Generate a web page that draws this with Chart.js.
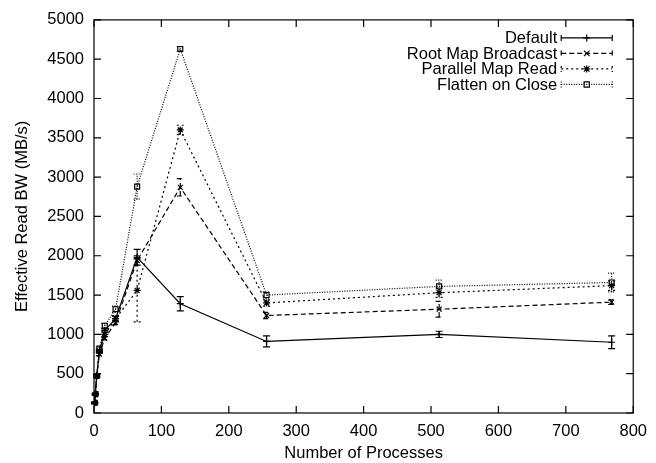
<!DOCTYPE html>
<html><head><meta charset="utf-8">
<script src="https://cdn.jsdelivr.net/npm/chart.js@4.4.1/dist/chart.umd.min.js"></script>
<style>html,body{margin:0;padding:0;background:#fff}#wrap{width:656px;height:463px}</style>
</head><body><div id="wrap"><canvas id="c" width="656" height="463"></canvas></div>
<script>
const processes = [1, 2, 4, 8, 16, 32, 64, 128, 256, 512, 768];
const seriesNames = ["Default", "Root Map Broadcast", "Parallel Map Read", "Flatten on Close"];
const defaultBW = [130, 240, 470, 780, 1050, 1200, 1980, 1390, 910, 1000, 900];
const defaultErr = [10, 10, 15, 20, 20, 30, 100, 90, 70, 40, 80];
const rootBW = [130, 240, 470, 750, 950, 1150, 1940, 2870, 1240, 1320, 1410];
const rootErr = [10, 10, 15, 20, 20, 30, 60, 110, 40, 100, 30];
const parallelBW = [130, 240, 470, 790, 1000, 1200, 1560, 3600, 1400, 1530, 1620];
const parallelErr = [10, 10, 15, 20, 30, 40, 400, 60, 40, 60, 60];
const flattenBW = [130, 240, 470, 820, 1110, 1320, 2880, 4630, 1500, 1610, 1660];
const flattenErr = [10, 10, 15, 20, 30, 40, 160, 30, 40, 80, 120];
const xTicks = [0, 100, 200, 300, 400, 500, 600, 700, 800];
const yTicks = [0, 500, 1000, 1500, 2000, 2500, 3000, 3500, 4000, 4500, 5000];

const FONT = "'Liberation Sans', Arial, sans-serif";
const FS = 16.5;
const styles = [
  {dash: [], pt: 'cross'},
  {dash: [5, 3], pt: 'crossRot'},
  {dash: [2, 3], pt: 'star'},
  {dash: [1, 1.5], pt: 'rect'}
];
const values = [defaultBW, rootBW, parallelBW, flattenBW];
const errs = [defaultErr, rootErr, parallelErr, flattenErr];

const datasets = values.map((v, i) => ({
  label: seriesNames[i],
  data: processes.map((x, j) => ({x: x, y: v[j]})),
  errors: errs[i],
  borderColor: '#000',
  backgroundColor: 'rgba(0,0,0,0)',
  borderWidth: 1.2,
  borderDash: styles[i].dash,
  pointStyle: styles[i].pt,
  pointRadius: 3.5,
  pointBorderWidth: 1.2,
  pointBorderColor: '#000',
  pointBackgroundColor: 'rgba(0,0,0,0)',
  tension: 0
}));

function drawMarker(ctx, style, x, y, r) {
  ctx.save();
  ctx.setLineDash([]);
  ctx.beginPath();
  if (style === 'cross' || style === 'star') {
    ctx.moveTo(x - r, y); ctx.lineTo(x + r, y);
    ctx.moveTo(x, y - r); ctx.lineTo(x, y + r);
  }
  if (style === 'crossRot' || style === 'star') {
    const d = r * 0.8;
    ctx.moveTo(x - d, y - d); ctx.lineTo(x + d, y + d);
    ctx.moveTo(x - d, y + d); ctx.lineTo(x + d, y - d);
  }
  if (style === 'rect') {
    ctx.rect(x - r * 0.75, y - r * 0.75, r * 1.5, r * 1.5);
  }
  ctx.stroke();
  ctx.restore();
}

const framePlugin = {
  id: 'frame',
  beforeDatasetsDraw(chart) {
    const {ctx, chartArea: a, scales} = chart;
    ctx.save();
    ctx.strokeStyle = '#000';
    ctx.lineWidth = 1.2;
    ctx.setLineDash([]);
    ctx.strokeRect(a.left, a.top, a.right - a.left, a.bottom - a.top);
    const t = 7;
    ctx.beginPath();
    xTicks.forEach(v => {
      const px = scales.x.getPixelForValue(v);
      ctx.moveTo(px, a.bottom); ctx.lineTo(px, a.bottom - t);
      ctx.moveTo(px, a.top); ctx.lineTo(px, a.top + t);
    });
    yTicks.forEach(v => {
      const py = scales.y.getPixelForValue(v);
      ctx.moveTo(a.left, py); ctx.lineTo(a.left + t, py);
      ctx.moveTo(a.right, py); ctx.lineTo(a.right - t, py);
    });
    ctx.stroke();
    ctx.restore();
  },
  afterDatasetsDraw(chart) {
    const {ctx, scales} = chart;
    ctx.save();
    ctx.strokeStyle = '#000';
    ctx.lineWidth = 1.2;
    chart.data.datasets.forEach((ds, i) => {
      ctx.setLineDash(styles[i].dash);
      ds.data.forEach((p, j) => {
        const e = ds.errors[j];
        const px = scales.x.getPixelForValue(p.x);
        const y1 = scales.y.getPixelForValue(p.y - e);
        const y2 = scales.y.getPixelForValue(p.y + e);
        ctx.beginPath();
        ctx.moveTo(px, y1); ctx.lineTo(px, y2);
        ctx.moveTo(px - 3.5, y1); ctx.lineTo(px + 3.5, y1);
        ctx.moveTo(px - 3.5, y2); ctx.lineTo(px + 3.5, y2);
        ctx.stroke();
      });
    });
    // legend
    const a = chart.chartArea;
    const textRight = a.right - 76;
    const lineL = textRight + 4, lineR = a.right - 21;
    ctx.font = FS + 'px ' + FONT;
    ctx.fillStyle = '#000';
    ctx.textAlign = 'right';
    ctx.textBaseline = 'middle';
    chart.data.datasets.forEach((ds, i) => {
      const y = a.top + 18 + i * 15.5;
      ctx.fillText(ds.label, textRight, y + 1);
      ctx.setLineDash(styles[i].dash);
      ctx.beginPath();
      ctx.moveTo(lineL, y); ctx.lineTo(lineR, y);
      ctx.moveTo(lineL, y - 3); ctx.lineTo(lineL, y + 3);
      ctx.moveTo(lineR, y - 3); ctx.lineTo(lineR, y + 3);
      ctx.stroke();
      drawMarker(ctx, styles[i].pt, (lineL + lineR) / 2, y, 3.5);
    });
    ctx.restore();
  }
};

new Chart(document.getElementById('c'), {
  type: 'line',
  data: {datasets: datasets},
  options: {
    responsive: false,
    animation: false,
    layout: {padding: {top: 15, right: 15, left: 0, bottom: 0}},
    plugins: {legend: {display: false}, tooltip: {enabled: false}},
    scales: {
      x: {
        type: 'linear', min: 0, max: 800,
        afterBuildTicks: s => { s.ticks = xTicks.map(v => ({value: v})); },
        afterFit: s => { s.height = 50; },
        grid: {display: false, drawTicks: false},
        border: {display: false},
        ticks: {color: '#000', font: {family: FONT, size: FS}, padding: 9, maxRotation: 0, callback: v => String(v)},
        title: {display: true, text: 'Number of Processes', color: '#000', font: {family: FONT, size: FS}, padding: {top: 0, bottom: 0}}
      },
      y: {
        type: 'linear', min: 0, max: 5000,
        afterBuildTicks: s => { s.ticks = yTicks.map(v => ({value: v})); },
        afterFit: s => { s.width = 94; },
        grid: {display: false, drawTicks: false},
        border: {display: false},
        ticks: {color: '#000', font: {family: FONT, size: FS}, padding: 10, callback: v => String(v)},
        title: {display: true, text: 'Effective Read BW (MB/s)', color: '#000', font: {family: FONT, size: FS}, padding: {top: 13, bottom: 0}}
      }
    }
  },
  plugins: [framePlugin]
});
</script></body></html>
